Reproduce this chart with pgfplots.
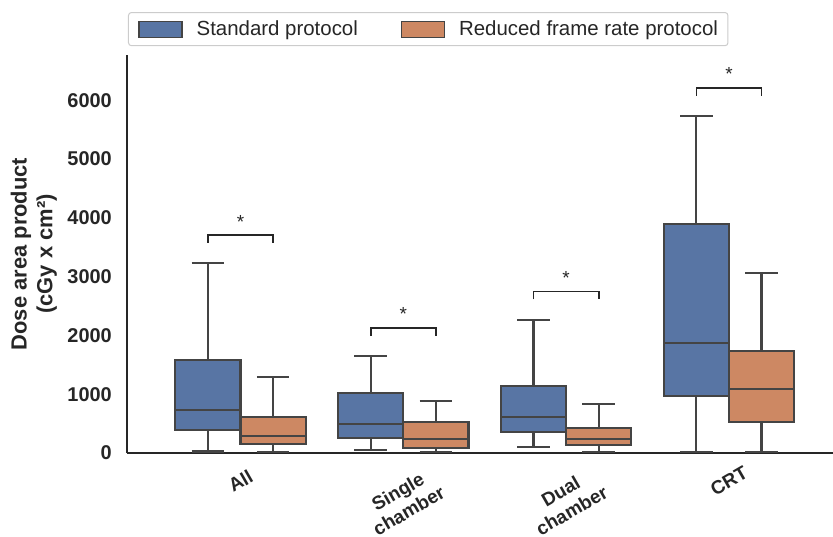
\documentclass[border=0pt]{standalone}
\usepackage{fontspec}
\setmainfont{Liberation Sans}
\usepackage{pgfplots}
\pgfplotsset{compat=1.18}
\definecolor{sbblue}{RGB}{88,117,164}
\definecolor{sborange}{RGB}{205,136,99}
\definecolor{boxline}{RGB}{68,68,68}
\definecolor{txt}{RGB}{38,38,38}
\pgfplotsset{
  boxfill/.style={forget plot, fill=#1, draw=boxline, line width=2.2bp},
  boxlines/.style={forget plot, draw=boxline, line width=2.2bp, unbounded coords=jump},
}
\begin{document}
\begin{tikzpicture}
\begin{axis}[
  scale only axis, width=706bp, height=398bp,
  at={(0,0)}, anchor=south west,
  xmin=-0.697, xmax=3.639, ymin=0, ymax=6770,
  axis x line*=bottom, axis y line*=left,
  axis line style={txt, line width=1.3bp, -},
  tick align=inside,
  tick style={draw=none},
  xtick={0,3}, xticklabels={All,CRT},
  extra x ticks={1,2},
  extra x tick labels={{Single\\chamber},{Dual\\chamber}},
  extra x tick style={xticklabel style={xshift=-10bp, yshift=-17.3bp}},
  xticklabel style={font=\bfseries\fontsize{19}{22}\selectfont, text=txt, align=center, yshift=-28bp, rotate=30, anchor=center, inner sep=0pt},
  ytick={0,1000,2000,3000,4000,5000,6000},
  yticklabel style={font=\bfseries\fontsize{20}{24}\selectfont, text=txt, anchor=east, inner sep=0pt, xshift=-15bp},
  /pgf/number format/assume math mode=true,
  /pgf/number format/1000 sep={},
  ylabel={Dose area product\\(cGy x cm²)},
  ylabel style={font=\bfseries\fontsize{22}{26}\selectfont, text=txt, align=center, at={(axis description cs:-0.132,0.5)}, anchor=center},
  legend columns=2,
  legend style={at={(axis description cs:0.0014,1.108)}, anchor=north west, draw=black!20, line width=1bp, rounded corners=3bp, fill=white, font=\fontsize{20.5}{24}\selectfont, text=txt, inner xsep=10bp, inner ysep=8bp, nodes={inner sep=0bp}, /tikz/every odd column/.append style={column sep=14bp}, /tikz/every even column/.append style={column sep=43bp}},
  legend image code/.code={\draw[#1, sharp corners] (0bp,-8bp) rectangle (43bp,8bp);},
]
\addlegendimage{draw=boxline, line width=1.2bp, fill=sbblue}
\addlegendentry{Standard protocol}
\addlegendimage{draw=boxline, line width=1.2bp, fill=sborange}
\addlegendentry{Reduced frame rate protocol}

% ---- Standard protocol: boxes (Q1 to Q3)
\addplot[boxfill=sbblue] coordinates {(-0.4,391) (0,391) (0,1576) (-0.4,1576)} -- cycle;
\addplot[boxfill=sbblue] coordinates {(0.6,250) (1.0,250) (1.0,1015) (0.6,1015)} -- cycle;
\addplot[boxfill=sbblue] coordinates {(1.6,363) (2.0,363) (2.0,1139) (1.6,1139)} -- cycle;
\addplot[boxfill=sbblue] coordinates {(2.6,964) (3.0,964) (3.0,3889) (2.6,3889)} -- cycle;
% ---- Reduced frame rate protocol: boxes (Q1 to Q3)
\addplot[boxfill=sborange] coordinates {(0,148) (0.4,148) (0.4,612) (0,612)} -- cycle;
\addplot[boxfill=sborange] coordinates {(1.0,85) (1.4,85) (1.4,527) (1.0,527)} -- cycle;
\addplot[boxfill=sborange] coordinates {(2.0,131) (2.4,131) (2.4,431) (2.0,431)} -- cycle;
\addplot[boxfill=sborange] coordinates {(3.0,522) (3.4,522) (3.4,1735) (3.0,1735)} -- cycle;

% ---- medians, whiskers and caps
\addplot[boxlines] coordinates {
 (-0.4,731) (0,731) (nan,nan)
 (-0.2,1576) (-0.2,3226) (nan,nan) (-0.3,3226) (-0.1,3226) (nan,nan)
 (-0.2,391) (-0.2,25) (nan,nan) (-0.3,25) (-0.1,25) (nan,nan)
 (0.6,498) (1.0,498) (nan,nan)
 (0.8,1015) (0.8,1650) (nan,nan) (0.7,1650) (0.9,1650) (nan,nan)
 (0.8,250) (0.8,56) (nan,nan) (0.7,56) (0.9,56) (nan,nan)
 (1.6,607) (2.0,607) (nan,nan)
 (1.8,1139) (1.8,2256) (nan,nan) (1.7,2256) (1.9,2256) (nan,nan)
 (1.8,363) (1.8,102) (nan,nan) (1.7,102) (1.9,102) (nan,nan)
 (2.6,1871) (3.0,1871) (nan,nan)
 (2.8,3889) (2.8,5731) (nan,nan) (2.7,5731) (2.9,5731) (nan,nan)
 (2.8,964) (2.8,22) (nan,nan) (2.7,22) (2.9,22)
};
\addplot[boxlines] coordinates {
 (0,284) (0.4,284) (nan,nan)
 (0.2,612) (0.2,1298) (nan,nan) (0.1,1298) (0.3,1298) (nan,nan)
 (0.2,148) (0.2,18) (nan,nan) (0.1,18) (0.3,18) (nan,nan)
 (1.0,233) (1.4,233) (nan,nan)
 (1.2,527) (1.2,879) (nan,nan) (1.1,879) (1.3,879) (nan,nan)
 (1.2,85) (1.2,12) (nan,nan) (1.1,12) (1.3,12) (nan,nan)
 (2.0,238) (2.4,238) (nan,nan)
 (2.2,431) (2.2,828) (nan,nan) (2.1,828) (2.3,828) (nan,nan)
 (2.2,131) (2.2,12) (nan,nan) (2.1,12) (2.3,12) (nan,nan)
 (3.0,1088) (3.4,1088) (nan,nan)
 (3.2,1735) (3.2,3061) (nan,nan) (3.1,3061) (3.3,3061) (nan,nan)
 (3.2,522) (3.2,15) (nan,nan) (3.1,15) (3.3,15)
};

% ---- significance brackets
\addplot[forget plot, txt, line width=1.6bp] coordinates {(-0.2,3577) (-0.2,3707) (0.2,3707) (0.2,3577)};
\addplot[forget plot, txt, line width=1.6bp] coordinates {(0.8,1990) (0.8,2131) (1.2,2131) (1.2,1990)};
\addplot[forget plot, txt, line width=1.6bp] coordinates {(1.8,2614) (1.8,2750) (2.2,2750) (2.2,2614)};
\addplot[forget plot, txt, line width=1.6bp] coordinates {(2.8,6077) (2.8,6213) (3.2,6213) (3.2,6077)};
\node[font=\fontsize{19}{20}\selectfont, text=txt, anchor=base, yshift=-11bp] at (axis cs:0,4012) {*};
\node[font=\fontsize{19}{20}\selectfont, text=txt, anchor=base, yshift=-11bp] at (axis cs:1,2443) {*};
\node[font=\fontsize{19}{20}\selectfont, text=txt, anchor=base, yshift=-11bp] at (axis cs:2,3055) {*};
\node[font=\fontsize{19}{20}\selectfont, text=txt, anchor=base, yshift=-11bp] at (axis cs:3,6522) {*};
\end{axis}
\pgfresetboundingbox
\useasboundingbox (-127bp,-84bp) rectangle (706bp,453bp);
\end{tikzpicture}
\end{document}
